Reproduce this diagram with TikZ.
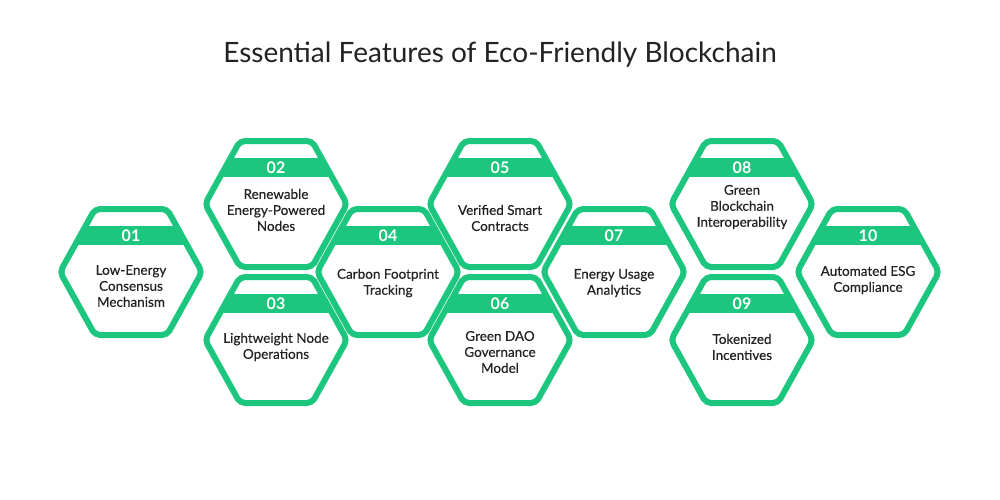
\documentclass[tikz,border=0pt]{standalone}
\usepackage{fontspec}
\setmainfont{Lato}
\definecolor{eg}{HTML}{1DC67E}
\definecolor{tx}{HTML}{222222}
\begin{document}
\begin{tikzpicture}[x=1pt,y=-1pt]
\useasboundingbox (0,0) rectangle (1000,500);
\tikzset{lbl/.style={align=center,text=tx,font=\fontsize{13.5}{16}\selectfont\addfontfeature{FakeBold=0.4}}}
\node[text=tx,font=\fontsize{28}{32}\selectfont] (title) at (500,55) {Essential Features of Eco-Friendly Blockchain};
\newcommand\hexa[5]{%
  \begin{scope}
  \clip[rounded corners=5] (#1-71,#2) -- (#1-36,#2-63) -- (#1+36,#2-63) -- (#1+71,#2) -- (#1+36,#2+63) -- (#1-36,#2+63) -- cycle;
  \fill[eg] (#1-80,#2-46) rectangle (#1+80,#2-27);
  \end{scope}
  \draw[eg,line width=6,rounded corners=5] (#1-71,#2) -- (#1-36,#2-63) -- (#1+36,#2-63) -- (#1+71,#2) -- (#1+36,#2+63) -- (#1-36,#2+63) -- cycle;
  \node[text=white,font=\fontsize{16}{16}\bfseries\selectfont] (n#3) at (#1,#2-36) {#3};
  \node[lbl] (t#3) at (#1,#4) {#5};
}
\hexa{131}{272}{01}{286}{Low-Energy\\Consensus\\Mechanism}
\hexa{276}{204}{02}{210}{Renewable\\Energy-Powered\\Nodes}
\hexa{276}{340}{03}{347}{Lightweight Node\\Operations}
\hexa{388}{272}{04}{283}{Carbon Footprint\\Tracking}
\hexa{500}{204}{05}{218}{Verified Smart\\Contracts}
\hexa{500}{340}{06}{352}{Green DAO\\Governance\\Model}
\hexa{614}{272}{07}{283}{Energy Usage\\Analytics}
\hexa{742}{204}{08}{207}{Green\\Blockchain\\Interoperability}
\hexa{742}{340}{09}{347}{Tokenized\\Incentives}
\hexa{868}{272}{10}{280}{Automated ESG\\Compliance}
\end{tikzpicture}
\end{document}
